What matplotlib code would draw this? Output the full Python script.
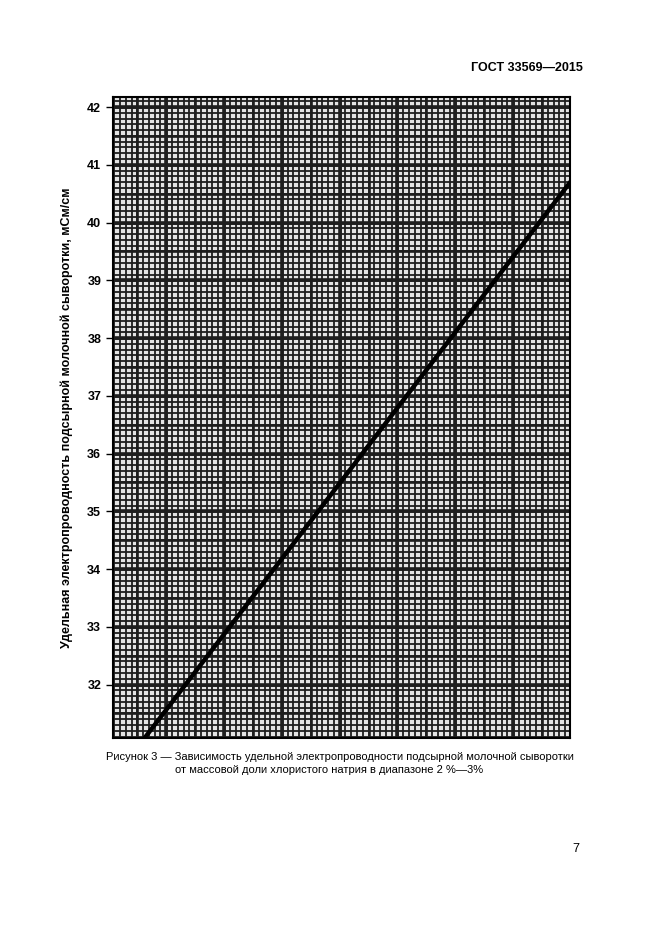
import numpy as np
import matplotlib.pyplot as plt

# line end points (x in grid units, y in mS/cm)
line_x = [-0.37, 6.98]
line_y = [31.08, 40.69]
y_ticks = [32, 33, 34, 35, 36, 37, 38, 39, 40, 41, 42]

plt.rcParams['font.family'] = ['Liberation Sans', 'DejaVu Sans']
fig = plt.figure(figsize=(6.61, 9.35), dpi=100)
ax = fig.add_axes([0.171, 0.211, 0.691, 0.685])
ax.set_xlim(-0.92, 6.98)
ax.set_ylim(31.08, 42.17)
ax.set_facecolor('#e4e4e4')

# graph paper: minor, half and major lines
for step, lw in [(0.1, 1.3), (0.5, 1.9), (1.0, 2.6)]:
    for v in np.arange(-1, 8, step):
        ax.axvline(v, color='#1e1e1e', lw=lw, zorder=1)
    for v in np.arange(31, 43, step):
        ax.axhline(v, color='#1e1e1e', lw=lw, zorder=1)

ax.plot(line_x, line_y, color='black', lw=3.2, zorder=3)

ax.set_yticks(y_ticks)
ax.set_yticklabels([str(t) for t in y_ticks], fontsize=9, fontweight='bold')
ax.set_xticks([])
ax.tick_params(axis='y', length=5, width=1)
for s in ax.spines.values():
    s.set_linewidth(1.5)
ax.set_ylabel('Удельная электропроводность подсырной молочной сыворотки, мСм/см',
              fontsize=9, fontweight='bold', labelpad=10)

fig.text(0.882, 0.924, 'ГОСТ 33569—2015', fontsize=9, fontweight='bold', ha='right')
fig.text(0.16, 0.187, 'Рисунок 3 — Зависимость удельной электропроводности подсырной молочной сыворотки',
         fontsize=8, ha='left')
fig.text(0.265, 0.173, 'от массовой доли хлористого натрия в диапазоне 2 %—3%', fontsize=8, ha='left')
fig.text(0.876, 0.089, '7', fontsize=9, ha='right')

plt.savefig('out.png', dpi=100)
